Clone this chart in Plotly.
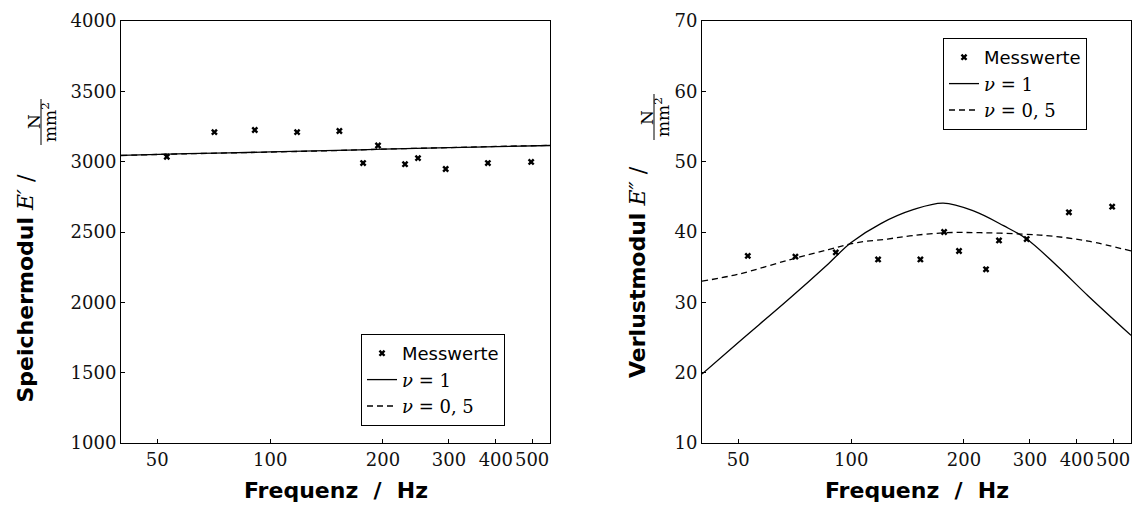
import plotly.graph_objects as go
import math

# ---------------- data ----------------
freq_meas = [53, 71, 91, 118, 153, 177, 194, 229, 248, 294, 381, 497]
E_store_meas = [3035, 3210, 3225, 3210, 3218, 2990, 3115, 2982, 3025, 2948, 2990, 2998]
E_loss_meas = [36.6, 36.5, 37.1, 36.1, 36.1, 40.0, 37.3, 34.7, 38.8, 39.0, 42.8, 43.6]

freq_store_model = [40, 60, 100, 150, 200, 300, 400, 558]
E_store_nu1 = [3045, 3057, 3069, 3080, 3089, 3100, 3107, 3115]
E_store_nu05 = [3044, 3056, 3068, 3079, 3089, 3100, 3108, 3116]

freq_loss_nu1 = [40, 50, 68, 87, 100, 120, 147, 176, 212, 255, 294, 354, 429, 558]
E_loss_nu1 = [19.8, 24.3, 30.4, 35.5, 38.5, 41.2, 43.2, 44.1, 43.0, 40.9, 39.0, 35.2, 30.9, 25.3]

freq_loss_nu05 = [40, 50, 68, 87, 104, 125, 146, 180, 221, 287, 346, 429, 558]
E_loss_nu05 = [33.0, 34.0, 36.0, 37.5, 38.5, 39.0, 39.5, 39.9, 39.9, 39.7, 39.4, 38.7, 37.3]

x_ticks = [50, 100, 200, 300, 400, 500]
y_ticks_store = [1000, 1500, 2000, 2500, 3000, 3500, 4000]
y_ticks_loss = [10, 20, 30, 40, 50, 60, 70]

W, H = 1138, 511
def px(x): return x / W
def py(y): return 1 - y / H

SERIF = "DejaVu Serif"
SANS = "DejaVu Sans"
name_meas = "Messwerte"
name_nu1 = f"<span style='font-family:{SERIF}'><i>ν</i> = 1</span>"
name_nu05 = f"<span style='font-family:{SERIF}'><i>ν</i> = 0, 5</span>"

fig = go.Figure()

def add_set(xa, ya, leg, y_meas, fm1, y1, fm05, y05):
    fig.add_trace(go.Scatter(x=freq_meas, y=y_meas, mode="markers", name=name_meas,
                             marker=dict(symbol="x", size=6, color="black"),
                             xaxis=xa, yaxis=ya, legend=leg))
    fig.add_trace(go.Scatter(x=fm1, y=y1, mode="lines", name=name_nu1,
                             line=dict(color="black", width=1.3, shape="spline", smoothing=1.0),
                             xaxis=xa, yaxis=ya, legend=leg))
    fig.add_trace(go.Scatter(x=fm05, y=y05, mode="lines", name=name_nu05,
                             line=dict(color="black", width=1.3, dash="6px,4px", shape="spline", smoothing=1.0),
                             xaxis=xa, yaxis=ya, legend=leg))

add_set("x", "y", "legend", E_store_meas, freq_store_model, E_store_nu1, freq_store_model, E_store_nu05)
add_set("x2", "y2", "legend2", E_loss_meas, freq_loss_nu1, E_loss_nu1, freq_loss_nu05, E_loss_nu05)

xr = [math.log10(40), math.log10(558)]
tickfont = dict(family=SERIF, size=18, color="#111")
xcommon = dict(type="log", range=xr, tickvals=x_ticks, ticktext=[str(v) for v in x_ticks],
               ticks="inside", ticklen=4, tickcolor="black", showline=True, linecolor="black",
               linewidth=1, mirror=True, showgrid=False, zeroline=False, tickfont=tickfont,
               tickangle=0, automargin=False)
ycommon = dict(ticks="inside", ticklen=4, tickcolor="black", showline=True, linecolor="black",
               linewidth=1, mirror=True, showgrid=False, zeroline=False, tickfont=tickfont,
               automargin=False)

ydom = [py(443), py(21)]
legfont = dict(family=SANS, size=18, color="black")
fig.update_layout(
    width=W, height=H, margin=dict(l=0, r=0, t=0, b=0, autoexpand=False),
    paper_bgcolor="white", plot_bgcolor="white",
    xaxis=dict(domain=[px(121), px(550)], anchor="y", **xcommon),
    yaxis=dict(domain=ydom, anchor="x", range=[1000, 4000], tickvals=y_ticks_store, **ycommon),
    xaxis2=dict(domain=[px(702), px(1131)], anchor="y2", **xcommon),
    yaxis2=dict(domain=ydom, anchor="x2", range=[10, 70], tickvals=y_ticks_loss, **ycommon),
    legend=dict(x=px(361), y=py(334), xanchor="left", yanchor="top", bgcolor="white",
                bordercolor="black", borderwidth=1, itemwidth=30, font=legfont),
    legend2=dict(x=px(943), y=py(38), xanchor="left", yanchor="top", bgcolor="white",
                 bordercolor="black", borderwidth=1, itemwidth=30, font=legfont),
    showlegend=True,
)

title_font = dict(family=SANS, size=22, color="black")
ann = []
# x titles
for cx in [(121 + 550) / 2, (702 + 1131) / 2]:
    ann.append(dict(text="<b>Frequenz  /  Hz</b>", x=px(cx), y=py(490), xref="paper", yref="paper",
                    xanchor="center", yanchor="middle", showarrow=False, font=title_font))
# y titles
ann.append(dict(text=f"<b>Speichermodul</b> <span style='font-family:{SERIF}'><i>E′</i> /</span>",
                x=px(25), y=py(405), xref="paper", yref="paper", xanchor="center", yanchor="bottom",
                textangle=-90, showarrow=False, font=title_font))
ann.append(dict(text=f"<b>Verlustmodul</b> <span style='font-family:{SERIF}'><i>E″</i> /</span>",
                x=px(637), y=py(380), xref="paper", yref="paper", xanchor="center", yanchor="bottom",
                textangle=-90, showarrow=False, font=title_font))
# fractions N / mm^2
frac_font = dict(family=SERIF, size=17, color="black")
shapes = []
for (bx, cy) in [(41, 122), (654, 117)]:
    ann.append(dict(text="N", x=px(bx - 7), y=py(cy), xref="paper", yref="paper",
                    xanchor="center", yanchor="middle", textangle=-90, showarrow=False, font=frac_font))
    ann.append(dict(text="mm<sup>2</sup>", x=px(bx + 8), y=py(cy), xref="paper", yref="paper",
                    xanchor="center", yanchor="middle", textangle=-90, showarrow=False, font=frac_font))
    shapes.append(dict(type="line", xref="paper", yref="paper", x0=px(bx), x1=px(bx),
                       y0=py(cy + 23), y1=py(cy - 23), line=dict(color="black", width=1)))

fig.update_layout(annotations=ann, shapes=shapes)
fig.write_html("out.html")
